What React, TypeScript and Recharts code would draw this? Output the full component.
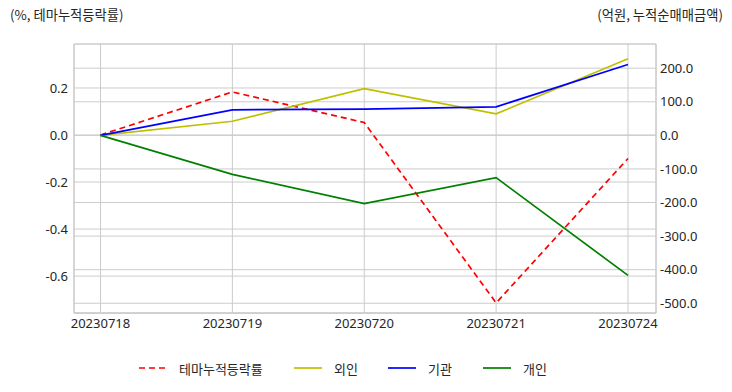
import React from "react";
import {
  LineChart,
  Line,
  XAxis,
  YAxis,
  CartesianGrid,
} from "recharts";

const dates = ["20230718", "20230719", "20230720", "20230721", "20230724"];
const themeReturn = [0, 0.183, 0.053, -0.714, -0.1];
const foreign = [0, 42, 139, 64, 228];
const institution = [0, 76, 78, 85, 211];
const individual = [0, -116, -203, -126, -417];

const leftTicks = [-0.6, -0.4, -0.2, 0, 0.2];
const rightTicks = [-500, -400, -300, -200, -100, 0, 100, 200];

const data = dates.map((d, i) => ({
  date: d,
  theme: themeReturn[i],
  foreign: foreign[i],
  institution: institution[i],
  individual: individual[i],
}));

const series = [
  { key: "theme", name: "테마누적등락률", color: "#ff0000", axis: "left", dash: "6 4" },
  { key: "foreign", name: "외인", color: "#bfbf00", axis: "right", dash: undefined },
  { key: "institution", name: "기관", color: "#0000ff", axis: "right", dash: undefined },
  { key: "individual", name: "개인", color: "#008000", axis: "right", dash: undefined },
];

const legendWidths = [155, 94, 95, 80];

const GRID = "#cccccc";
const TEXT = "#262626";
const tickStyle = { fill: TEXT, fontSize: 13, fontFamily: "'Noto Sans', 'Noto Sans CJK KR'" };

const titleStyle: React.CSSProperties = {
  position: "absolute",
  top: 5,
  fontSize: 13.3,
  color: TEXT,
  fontFamily: "'Noto Sans CJK KR', 'Noto Sans'",
  lineHeight: "20px",
};

const App = () => {
  return (
    <div style={{ position: "absolute", left: 0, top: 0, width: 732, height: 392, background: "#fff" }}>
      <div style={{ ...titleStyle, left: 10 }}>(%, 테마누적등락률)</div>
      <div style={{ ...titleStyle, right: 9 }}>(억원, 누적순매매금액)</div>
      <LineChart width={732} height={392} data={data} margin={{ top: 44, right: 0, bottom: 49, left: 0 }}>
        <CartesianGrid yAxisId="left" stroke={GRID} strokeWidth={1} />
        <CartesianGrid yAxisId="right" vertical={false} stroke={GRID} strokeWidth={1} />
        <XAxis
          dataKey="date"
          padding={{ left: 26.5, right: 28 }}
          height={30}
          tickLine={false}
          tickSize={4}
          tickMargin={2}
          axisLine={{ stroke: GRID, strokeWidth: 1.25 }}
          tick={tickStyle}
          interval={0}
        />
        <XAxis
          xAxisId="top"
          dataKey="date"
          orientation="top"
          height={0}
          tick={false}
          tickLine={false}
          axisLine={{ stroke: GRID, strokeWidth: 1.25 }}
        />
        <YAxis
          yAxisId="left"
          width={74}
          domain={[-0.757, 0.387]}
          allowDataOverflow
          ticks={leftTicks}
          tickFormatter={(v: number) => v.toFixed(1)}
          tickLine={false}
          tickSize={4}
          tickMargin={2}
          axisLine={{ stroke: GRID, strokeWidth: 1.25 }}
          tick={tickStyle}
        />
        <YAxis
          yAxisId="right"
          orientation="right"
          width={76}
          domain={[-529, 272]}
          allowDataOverflow
          ticks={rightTicks}
          tickFormatter={(v: number) => v.toFixed(1)}
          tickLine={false}
          tickSize={2}
          tickMargin={2}
          axisLine={{ stroke: GRID, strokeWidth: 1.25 }}
          tick={tickStyle}
        />
        {series.map((s) => (
          <Line
            key={s.key}
            yAxisId={s.axis}
            dataKey={s.key}
            name={s.name}
            stroke={s.color}
            strokeWidth={1.7}
            strokeDasharray={s.dash}
            dot={false}
            activeDot={false}
            isAnimationActive={false}
          />
        ))}
      </LineChart>
      <div
        style={{
          position: "absolute",
          left: 139,
          top: 358,
          display: "flex",
          alignItems: "center",
          fontSize: 13,
          color: TEXT,
          fontFamily: "'Noto Sans CJK KR', 'Noto Sans'",
        }}
      >
        {series.map((s, i) => (
          <div key={s.key} style={{ width: legendWidths[i], display: "flex", alignItems: "center", height: 20 }}>
            <svg width={28} height={20} style={{ marginRight: 12 }}>
              <line x1={0} y1={10} x2={28} y2={10} stroke={s.color} strokeWidth={1.7} strokeDasharray={s.dash} />
            </svg>
            <span>{s.name}</span>
          </div>
        ))}
      </div>
    </div>
  );
};

export default App;
